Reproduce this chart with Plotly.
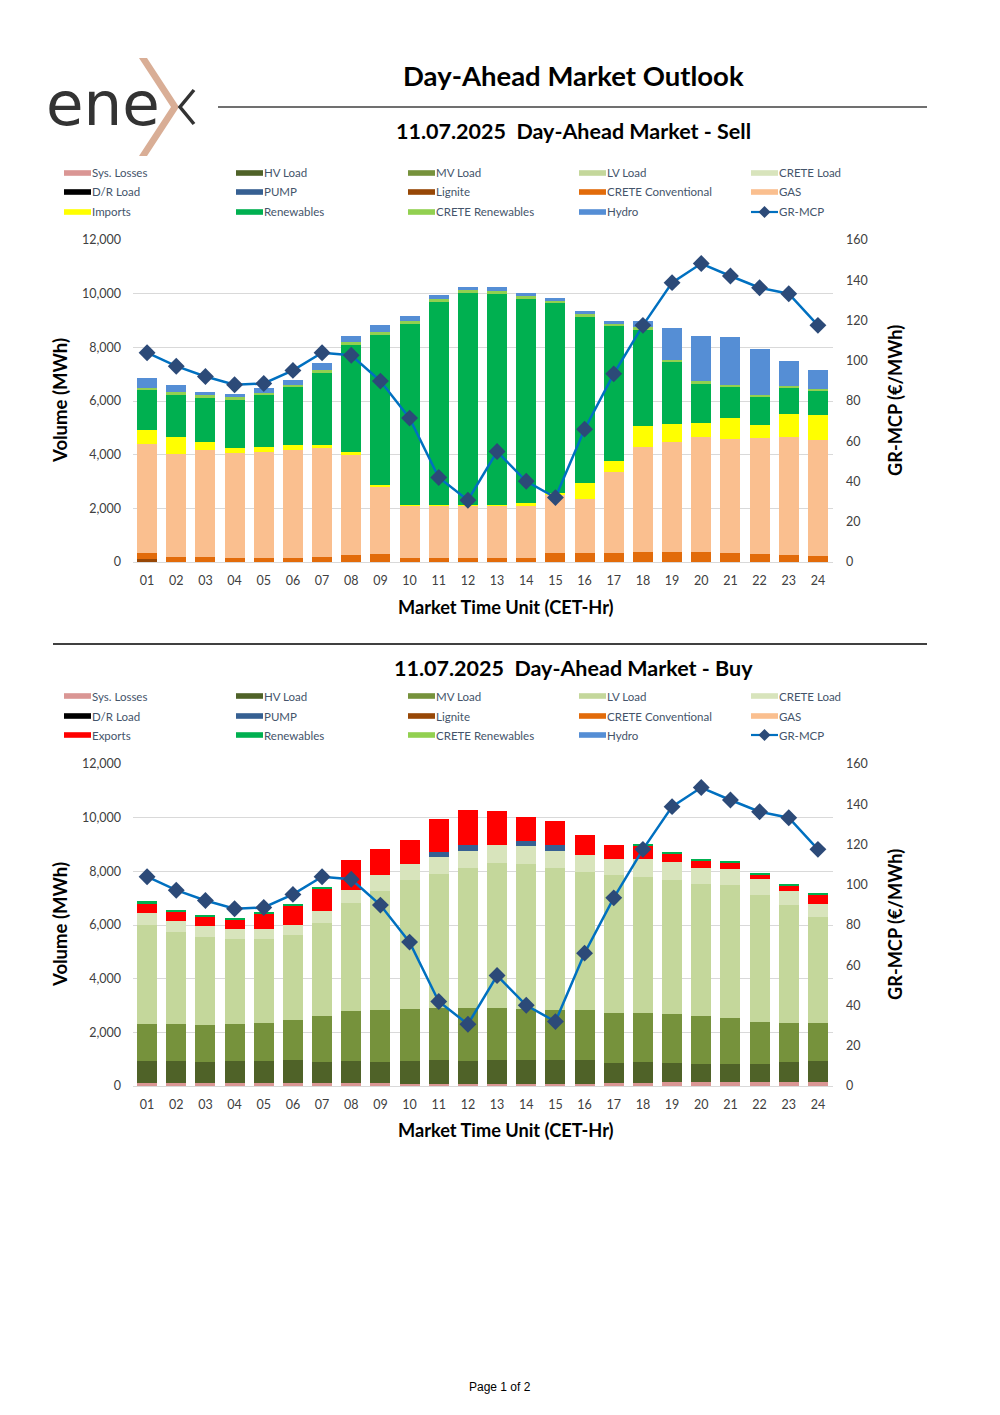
import plotly.graph_objects as go

W, H = 1000, 1415
OFF = 8  # page body margin in the browser
FONT = "Lato"

hours = ["%02d" % h for h in range(1, 25)]

# ---- SELL side (MWh) ----
sell_lignite = [124] + [0] * 23
sell_crete_conv = [224, 186, 174, 161, 161, 161, 199, 261, 311, 149, 149, 149,
                   149, 149, 348, 335, 348, 385, 385, 373, 348, 311, 273, 224]
sell_gas = [4036, 3851, 3987, 3900, 3925, 4012, 4086, 3738, 2508, 1950, 1938, 1950,
            1950, 1950, 2161, 2012, 3005, 3888, 4074, 4297, 4247, 4322, 4385, 4334]
sell_imports = [547, 633, 310, 187, 199, 199, 62, 87, 62, 37, 24, 37,
                11, 99, 62, 584, 423, 807, 695, 522, 758, 472, 869, 919]
sell_renewables = [1503, 1590, 1677, 1813, 1962, 2136, 2708, 4012, 5589, 6744, 7577, 7887,
                   7876, 7601, 7067, 6198, 5005, 3602, 2286, 1478, 1180, 1055, 956, 882]
sell_crete_ren = [62, 62, 74, 74, 62, 75, 87, 87, 100, 87, 111, 124,
                  112, 112, 99, 124, 87, 74, 87, 74, 75, 75, 75, 75]
sell_hydro = [372, 261, 125, 125, 187, 211, 260, 248, 248, 211, 149, 112,
              136, 112, 112, 112, 124, 236, 1179, 1689, 1763, 1701, 931, 720]

# ---- BUY side (MWh) ----
buy_sys_losses = [110, 105, 100, 100, 100, 100, 100, 100, 100, 80, 70, 60,
                  60, 60, 60, 90, 100, 124, 137, 149, 149, 149, 149, 149]
buy_hv = [835, 840, 808, 845, 845, 870, 783, 845, 808, 840, 900, 885,
          898, 898, 898, 880, 758, 772, 721, 672, 672, 672, 759, 796]
buy_mv = [1381, 1381, 1369, 1369, 1394, 1481, 1717, 1866, 1928, 1954, 1941, 1966,
          1941, 1928, 1878, 1866, 1866, 1828, 1829, 1791, 1717, 1567, 1456, 1394]
buy_lv = [3683, 3396, 3259, 3160, 3122, 3159, 3471, 3994, 4441, 4814, 5001, 5225,
          5423, 5399, 5287, 5150, 5126, 5076, 5001, 4902, 4963, 4740, 4366, 3968]
buy_crete = [423, 436, 410, 385, 386, 386, 460, 510, 573, 597, 609, 634,
             647, 647, 635, 635, 622, 647, 647, 622, 598, 572, 523, 460]
buy_pump = [0] * 10 + [212, 224, 0, 211, 224] + [0] * 9
buy_exports = [373, 361, 361, 349, 597, 734, 846, 1119, 970, 896, 1219, 1281,
               1269, 896, 883, 746, 522, 522, 348, 286, 248, 187, 211, 361]
buy_renewables = [74, 49, 50, 49, 50, 50, 37, 0, 0, 0, 0, 0,
                  0, 0, 0, 0, 0, 25, 37, 37, 50, 49, 37, 37]

# ---- GR-MCP (€/MWh) ----
mcp = [104.0, 97.3, 92.2, 88.1, 88.7, 95.2, 104.0, 102.7, 89.9, 71.5, 42.0, 30.7,
       54.9, 40.1, 32.0, 66.0, 93.5, 117.6, 138.8, 148.3, 142.1, 136.3, 133.3, 117.6]

vol_ticks = [0, 2000, 4000, 6000, 8000, 10000, 12000]
price_ticks = [0, 20, 40, 60, 80, 100, 120, 140, 160]

COL = {
    "Sys. Losses": "#DA9694", "HV Load": "#4F6228", "MV Load": "#76923C",
    "LV Load": "#C4D79B", "CRETE Load": "#D8E4BC", "D/R Load": "#000000",
    "PUMP": "#366092", "Lignite": "#974706", "CRETE Conventional": "#E26B0A",
    "GAS": "#FABF8F", "Imports": "#FFFF00", "Exports": "#FF0000",
    "Renewables": "#00B050", "CRETE Renewables": "#92D050", "Hydro": "#558ED5",
}
LINE_COL = "#0070C0"
MARK_COL = "#2C4A78"

legend_sell = ["Sys. Losses", "HV Load", "MV Load", "LV Load", "CRETE Load",
               "D/R Load", "PUMP", "Lignite", "CRETE Conventional", "GAS",
               "Imports", "Renewables", "CRETE Renewables", "Hydro", "GR-MCP"]
legend_buy = ["Sys. Losses", "HV Load", "MV Load", "LV Load", "CRETE Load",
              "D/R Load", "PUMP", "Lignite", "CRETE Conventional", "GAS",
              "Exports", "Renewables", "CRETE Renewables", "Hydro", "GR-MCP"]


def px(x):
    return (x - OFF) / W


def py(y):
    return 1 - (y - OFF) / H


fig = go.Figure()

sell_series = [("Lignite", sell_lignite), ("CRETE Conventional", sell_crete_conv),
               ("GAS", sell_gas), ("Imports", sell_imports),
               ("Renewables", sell_renewables), ("CRETE Renewables", sell_crete_ren),
               ("Hydro", sell_hydro)]
buy_series = [("Sys. Losses", buy_sys_losses), ("HV Load", buy_hv), ("MV Load", buy_mv),
              ("LV Load", buy_lv), ("CRETE Load", buy_crete), ("PUMP", buy_pump),
              ("Exports", buy_exports), ("Renewables", buy_renewables)]

for name, vals in sell_series:
    fig.add_trace(go.Bar(x=hours, y=vals, name=name, marker_color=COL[name],
                         marker_line_width=0, xaxis="x", yaxis="y"))
fig.add_trace(go.Scatter(x=hours, y=mcp, name="GR-MCP", mode="lines+markers",
                         line=dict(color=LINE_COL, width=2.5),
                         marker=dict(symbol="diamond", size=13, color=MARK_COL),
                         xaxis="x", yaxis="y2"))
for name, vals in buy_series:
    fig.add_trace(go.Bar(x=hours, y=vals, name=name, marker_color=COL[name],
                         marker_line_width=0, xaxis="x2", yaxis="y3"))
fig.add_trace(go.Scatter(x=hours, y=mcp, name="GR-MCP", mode="lines+markers",
                         line=dict(color=LINE_COL, width=2.5),
                         marker=dict(symbol="diamond", size=13, color=MARK_COL),
                         xaxis="x2", yaxis="y4"))

XDOM = [px(132.5), px(832.5)]
TOP_DOM = [py(562), py(240)]
BOT_DOM = [py(1086), py(764)]
tickfont = dict(family=FONT, size=12.5, color="#404040")

xcommon = dict(domain=XDOM, type="category", range=[-0.5, len(hours) - 0.5],
               autorange=False, showgrid=False, showline=True,
               linecolor="#D9D9D9", linewidth=1, ticks="outside", ticklen=7,
               tickcolor="rgba(0,0,0,0)", tickfont=tickfont, zeroline=False,
               automargin=False)
yleft = dict(range=[0, 12000], tickvals=vol_ticks, tickformat=",", showgrid=True,
             gridcolor="#D9D9D9", gridwidth=1, zeroline=False, ticks="outside",
             ticklen=8, tickcolor="rgba(0,0,0,0)", tickfont=tickfont,
             automargin=False)
yright = dict(range=[0, 160], tickvals=price_ticks, showgrid=False, zeroline=False,
              side="right", ticks="outside", ticklen=10, tickcolor="rgba(0,0,0,0)",
              tickfont=tickfont, automargin=False)

fig.update_layout(
    width=W, height=H, autosize=False,
    margin=dict(l=0, r=0, t=0, b=0, pad=0, autoexpand=False),
    paper_bgcolor="white", plot_bgcolor="white",
    barmode="stack", bargap=0.31, showlegend=False,
    xaxis=dict(xcommon, anchor="y"),
    yaxis=dict(yleft, domain=TOP_DOM, anchor="x"),
    yaxis2=dict(yright, domain=TOP_DOM, anchor="x", overlaying="y"),
    xaxis2=dict(xcommon, anchor="y3"),
    yaxis3=dict(yleft, domain=BOT_DOM, anchor="x2"),
    yaxis4=dict(yright, domain=BOT_DOM, anchor="x2", overlaying="y3"),
)

shapes = []
ann = []


def text(x, y, s, size, bold=False, color="#000000", xanchor="center",
         yanchor="middle", angle=0, family=FONT, weight=None):
    w = weight if weight is not None else ("bold" if bold else "normal")
    ann.append(dict(x=px(x), y=py(y), xref="paper", yref="paper", text=s,
                    showarrow=False, xanchor=xanchor, yanchor=yanchor,
                    textangle=angle,
                    font=dict(family=family, size=size, color=color, weight=w)))


# Logo
text(44, 104, "ene", 61, color="#333333", xanchor="left",
     family="DejaVu Sans", weight=400)
shapes.append(dict(type="path", xref="paper", yref="paper",
                   path="M %f,%f L %f,%f L %f,%f L %f,%f L %f,%f L %f,%f Z" % (
                       px(139), py(58), px(147), py(58), px(179), py(107),
                       px(147), py(156), px(139), py(156), px(171), py(107)),
                   fillcolor="#D9AE96", line=dict(width=0)))
shapes.append(dict(type="path", xref="paper", yref="paper",
                   path="M %f,%f L %f,%f L %f,%f" % (
                       px(194), py(90), px(180), py(107), px(194), py(124)),
                   line=dict(color="#333333", width=3.5)))

# Titles and rules
text(573, 76, "Day-Ahead Market Outlook", 27.5, bold=True, color="#000000")
shapes.append(dict(type="line", xref="paper", yref="paper", x0=px(218), x1=px(927),
                   y0=py(107), y1=py(107), line=dict(color="#404040", width=1.5)))
text(573, 131, "11.07.2025\u00a0\u00a0Day-Ahead Market - Sell", 21.5, bold=True)
shapes.append(dict(type="line", xref="paper", yref="paper", x0=px(53), x1=px(927),
                   y0=py(644), y1=py(644), line=dict(color="#404040", width=2)))
text(573, 668, "11.07.2025\u00a0\u00a0Day-Ahead Market - Buy", 21.5, bold=True)

# Axis titles
for (yc, xt) in [(401, 607), (925, 1130)]:
    text(60, yc, "Volume (MWh)", 18.5, bold=True, angle=-90)
    text(895, yc, "GR-MCP (€/MWh)", 18.2, bold=True, angle=-90)
    text(506, xt, "Market Time Unit (CET-Hr)", 18.2, bold=True)

# Legends
cols_x = [64, 236, 408, 579, 751]


def legend(items, rows_y):
    for i, name in enumerate(items):
        r, c = divmod(i, 5)
        x0 = cols_x[c]
        y = rows_y[r]
        if name == "GR-MCP":
            shapes.append(dict(type="line", xref="paper", yref="paper",
                               x0=px(x0), x1=px(x0 + 27), y0=py(y), y1=py(y),
                               line=dict(color=LINE_COL, width=2.2)))
            shapes.append(dict(type="path", xref="paper", yref="paper",
                               path="M %f,%f L %f,%f L %f,%f L %f,%f Z" % (
                                   px(x0 + 13.5), py(y - 6), px(x0 + 19.5), py(y),
                                   px(x0 + 13.5), py(y + 6), px(x0 + 7.5), py(y)),
                               fillcolor=MARK_COL, line=dict(width=0)))
        else:
            shapes.append(dict(type="rect", xref="paper", yref="paper",
                               x0=px(x0), x1=px(x0 + 27), y0=py(y + 2.8), y1=py(y - 2.8),
                               fillcolor=COL[name], line=dict(width=0)))
        text(x0 + 26, y, name, 11.5, color="#44546A", xanchor="left")


legend(legend_sell, [173, 192, 212])
legend(legend_buy, [696, 716, 735])

text(500, 1387, "Page 1 of 2", 12, color="#000000", family="Liberation Sans")

fig.update_layout(shapes=shapes, annotations=ann)
fig.write_html("out.html")
